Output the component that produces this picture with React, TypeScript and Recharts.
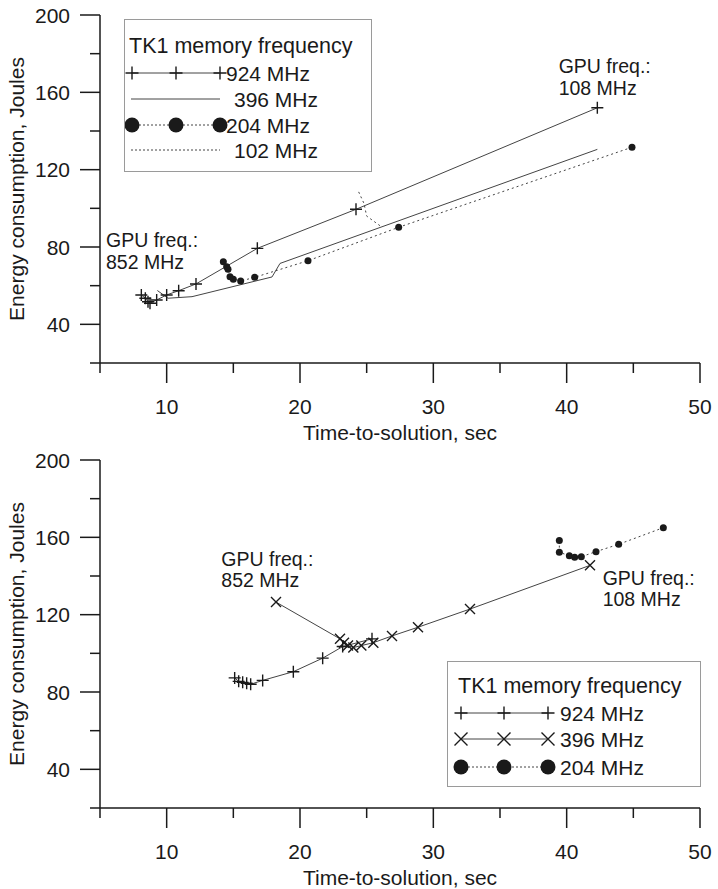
import { LineChart, Line, XAxis, YAxis, Legend, ReferenceDot, Label } from 'recharts';

const xTicks = [5, 10, 15, 20, 25, 30, 35, 40, 45, 50];
const yTicks = [20, 40, 60, 80, 100, 120, 140, 160, 180, 200];

// upper panel: time (s) / energy (J) per memory frequency
const upTime924 = [8.1, 8.4, 8.6, 8.75, 9.25, 10.0, 10.9, 12.2, 16.8, 24.2, 42.3];
const upEnergy924 = [55.2, 53.5, 51.7, 50.9, 52.6, 55.2, 57.4, 60.9, 79.3, 99.5, 152];
const upTime396 = [9.3, 10.1, 11.9, 17.9, 18.5, 42.3];
const upEnergy396 = [57.5, 53.5, 54.3, 64.5, 71.5, 130.5];
const upTime204 = [14.25, 14.5, 14.6, 14.75, 15.0, 15.55, 16.6, 20.6, 27.4, 44.9];
const upEnergy204 = [72.4, 69.8, 68.5, 64.6, 63.3, 62.4, 64.3, 72.9, 90.2, 131.6];
const upTime102 = [24.4, 24.8, 25.0, 26.0];
const upEnergy102 = [108.5, 102.5, 96, 91];

// lower panel
const loTime924 = [15.1, 15.4, 15.7, 16.0, 16.3, 17.2, 19.5, 21.7, 23.2, 25.4];
const loEnergy924 = [87.3, 85.5, 85, 84.5, 84, 86, 90.5, 97.5, 103.5, 107.5];
const loTime396 = [18.2, 23.0, 23.3, 23.6, 24.0, 24.6, 25.5, 26.9, 28.85, 32.75, 41.75];
const loEnergy396 = [126.5, 107.5, 105.5, 104, 103, 104, 105.5, 109, 113.5, 122.9, 145.5];
const loTime204 = [39.45, 39.45, 40.2, 40.6, 41.1, 42.2, 43.9, 47.25];
const loEnergy204 = [158.3, 152.3, 150.5, 149.7, 150, 152.6, 156.4, 165];

const legendTitle = 'TK1 memory frequency';
const axisX = 'Time-to-solution, sec';
const axisY = 'Energy consumption, Joules';

const upNotes = [
  { x: 5.45, y: 80, lines: ['GPU freq.:', '852 MHz'] },
  { x: 39.4, y: 170, lines: ['GPU freq.:', '108 MHz'] },
];
const loNotes = [
  { x: 14.1, y: 145.2, lines: ['GPU freq.:', '852 MHz'] },
  { x: 42.7, y: 135.4, lines: ['GPU freq.:', '108 MHz'] },
];

type Mark = 'plus' | 'cross' | 'dot' | 'none';
type Series = { name: string; xs: number[]; ys: number[]; mark: Mark; dotted: boolean; textGap?: number };

const upperSeries: Series[] = [
  { name: '924 MHz', xs: upTime924, ys: upEnergy924, mark: 'plus', dotted: false },
  { name: '396 MHz', xs: upTime396, ys: upEnergy396, mark: 'none', dotted: false, textGap: 8 },
  { name: '204 MHz', xs: upTime204, ys: upEnergy204, mark: 'dot', dotted: true },
  { name: '102 MHz', xs: upTime102, ys: upEnergy102, mark: 'none', dotted: true, textGap: 8 },
];
const lowerSeries: Series[] = [
  { name: '924 MHz', xs: loTime924, ys: loEnergy924, mark: 'plus', dotted: false },
  { name: '396 MHz', xs: loTime396, ys: loEnergy396, mark: 'cross', dotted: false },
  { name: '204 MHz', xs: loTime204, ys: loEnergy204, mark: 'dot', dotted: true },
];

const INK = '#1a1a1a';
const LINE = '#444';
const FONT = '"Liberation Sans", Arial, sans-serif';

function drawMark(mark: Mark, cx: number, cy: number, s: number, key?: string) {
  if (mark === 'plus')
    return <path key={key} d={`M${cx - s},${cy}H${cx + s}M${cx},${cy - s}V${cy + s}`} stroke={INK} strokeWidth={1.4} fill="none" />;
  if (mark === 'cross')
    return (
      <path key={key} d={`M${cx - s},${cy - s}L${cx + s},${cy + s}M${cx - s},${cy + s}L${cx + s},${cy - s}`} stroke={INK} strokeWidth={1.4} fill="none" />
    );
  if (mark === 'dot') return <circle key={key} cx={cx} cy={cy} r={s} fill={INK} />;
  return <g key={key} />;
}

function XTick({ x, y, payload }: any) {
  const major = payload.value % 10 === 0;
  return (
    <g>
      <line x1={x} y1={y} x2={x} y2={y + (major ? 20 : 10)} stroke={INK} strokeWidth={1.5} />
      {major && (
        <text x={x} y={y + 51} textAnchor="middle" fontSize={21} fill={INK}>
          {payload.value}
        </text>
      )}
    </g>
  );
}

function YTick({ x, y, payload }: any) {
  const major = payload.value % 40 === 0;
  return (
    <g>
      <line x1={x - (major ? 20 : 10)} y1={y} x2={x} y2={y} stroke={INK} strokeWidth={1.5} />
      {major && (
        <text x={x - 30} y={y + 7.5} textAnchor="end" fontSize={21} fill={INK}>
          {payload.value}
        </text>
      )}
    </g>
  );
}

function XTitle({ viewBox }: any) {
  return (
    <text x={viewBox.x + viewBox.width / 2} y={viewBox.y + 77} textAnchor="middle" fontSize={21} fill={INK}>
      {axisX}
    </text>
  );
}

function YTitle({ viewBox }: any) {
  const cx = viewBox.x + 16;
  const cy = viewBox.y + viewBox.height / 2;
  return (
    <text x={cx} y={cy} transform={`rotate(-90 ${cx} ${cy})`} textAnchor="middle" dominantBaseline="central" fontSize={21} fill={INK}>
      {axisY}
    </text>
  );
}

function noteShape(lines: string[]) {
  return (p: any) => (
    <text x={p.cx} y={p.cy} fontSize={19.5} fill={INK}>
      <tspan x={p.cx}>{lines[0]}</tspan>
      <tspan x={p.cx} dy={21.5}>
        {lines[1]}
      </tspan>
    </text>
  );
}

type LegendLayout = { w: number; h: number; titleX: number; titleY: number; rows: number[]; sx: number[]; textX: number; big: number };

function LegendBox({ series, lay }: { series: Series[]; lay: LegendLayout }) {
  return (
    <div style={{ width: lay.w, height: lay.h, border: '1px solid #9a9a9a', background: '#fff', boxSizing: 'border-box' }}>
      <svg width={lay.w - 2} height={lay.h - 2} style={{ display: 'block', fontFamily: FONT }}>
        <text x={lay.titleX} y={lay.titleY} fontSize={21.5} fill={INK}>
          {legendTitle}
        </text>
        {series.map((s, i) => {
          const cy = lay.rows[i];
          const size = s.mark === 'dot' ? 7.5 : 6.5;
          return (
            <g key={s.name}>
              <line x1={lay.sx[0] - 1} y1={cy} x2={lay.sx[2]} y2={cy} stroke={LINE} strokeWidth={1} strokeDasharray={s.dotted ? '2 2' : undefined} />
              {s.mark !== 'none' && lay.sx.map((x, j) => drawMark(s.mark, x, cy, size, `${s.name}-${j}`))}
              <text x={lay.textX + (s.textGap || 0)} y={cy + 7.5} fontSize={21} fill={INK}>
                {s.name}
              </text>
            </g>
          );
        })}
      </svg>
    </div>
  );
}

const upperLegend: LegendLayout = { w: 248, h: 153, titleX: 4, titleY: 33, rows: [53, 79, 105, 130], sx: [7, 51, 95], textX: 101, big: 7.5 };
const lowerLegend: LegendLayout = { w: 254, h: 126, titleX: 10, titleY: 31, rows: [51, 77, 105], sx: [13, 56, 100], textX: 112, big: 7.5 };

function Panel({ series, notes, height, bottom, legend, legendPos }: any) {
  return (
    <LineChart width={718} height={height} margin={{ top: 15, right: 18, bottom, left: 0 }}>
      <XAxis
        dataKey="x"
        type="number"
        domain={[5, 50]}
        ticks={xTicks}
        interval={0}
        tickSize={0}
        tickMargin={0}
        tickLine={false}
        height={60}
        axisLine={{ stroke: INK, strokeWidth: 1.5 }}
        tick={(p: any) => <XTick {...p} />}
      >
        <Label content={XTitle} />
      </XAxis>
      <YAxis
        type="number"
        domain={[20, 200]}
        ticks={yTicks}
        interval={0}
        tickSize={0}
        tickMargin={0}
        tickLine={false}
        width={100}
        axisLine={{ stroke: INK, strokeWidth: 1.5 }}
        tick={(p: any) => <YTick {...p} />}
      >
        <Label content={YTitle} />
      </YAxis>
      {series.map((s: Series) => (
        <Line
          key={s.name}
          name={s.name}
          data={s.xs.map((x, i) => ({ x, y: s.ys[i] }))}
          dataKey="y"
          type="linear"
          stroke={LINE}
          strokeWidth={1}
          strokeDasharray={s.dotted ? '2 3' : undefined}
          dot={s.mark === 'none' ? false : (p: any) => drawMark(s.mark, p.cx, p.cy, s.mark === 'dot' ? 3.5 : s.mark === 'cross' ? 5 : 6, `${s.name}-${p.index}`)}
          activeDot={false}
          isAnimationActive={false}
        />
      ))}
      {notes.map((n: any, i: number) => (
        <ReferenceDot key={i} x={n.x} y={n.y} r={0} shape={noteShape(n.lines)} />
      ))}
      <Legend
        layout="horizontal"
        verticalAlign="middle"
        align="center"
        wrapperStyle={{ left: legendPos.left, top: legendPos.top, width: legend.w, height: legend.h }}
        content={() => <LegendBox series={series} lay={legend} />}
      />
    </LineChart>
  );
}

export default function App() {
  return (
    <div style={{ position: 'absolute', left: 0, top: 0, width: 718, height: 889, background: '#fff', fontFamily: FONT }}>
      <Panel series={upperSeries} notes={upNotes} height={445} bottom={22} legend={upperLegend} legendPos={{ left: 124, top: 19 }} />
      <Panel series={lowerSeries} notes={loNotes} height={444} bottom={21} legend={lowerLegend} legendPos={{ left: 447, top: 216 }} />
    </div>
  );
}
